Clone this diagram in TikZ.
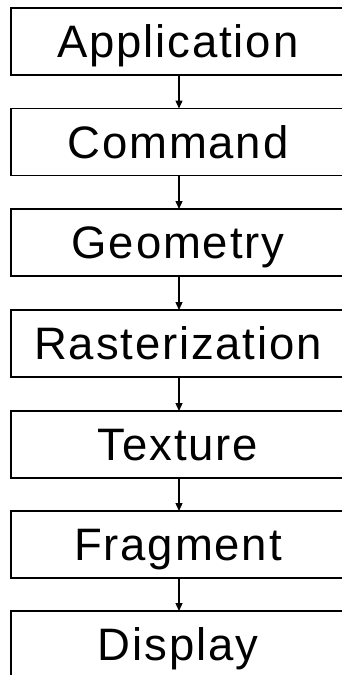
\documentclass[tikz,border=0pt]{standalone}
\usepackage{fontspec}
\setmainfont{Liberation Sans}[LetterSpace=4]
\usetikzlibrary{arrows.meta,calc}
\begin{document}
\begin{tikzpicture}[x=1pt,y=-1pt,
  stage/.style={minimum width=334pt, minimum height=67pt, outer sep=0pt,
    inner sep=0pt, text height=32pt, text depth=0pt,
    font=\fontsize{45.5}{50}\selectfont},
  box/.style={draw=black, line width=1.8pt, line join=miter},
  arr/.style={line width=1.3pt, -{Triangle[length=8pt,width=7pt]}}]
\useasboundingbox (0,0) rectangle (341,675);
\fill[white] (0,0) rectangle (341,675);
\node[stage] (a) at (178,41.5) {Application};
\node[stage] (b) at (178,142) {Command};
\node[stage] (c) at (178,242.5) {Geometry};
\node[stage] (d) at (178,343.5) {Rasterization};
\node[stage] (e) at (178,444.5) {Texture};
\node[stage] (f) at (178,544.5) {Fragment};
\node[stage] (g) at (178,644.5) {Display};
\foreach \n in {a,b,c,d,e,f,g}
  \draw[box] ($(\n.north east)+(40,0)$) -- (\n.north west) -- (\n.south west) -- ($(\n.south east)+(40,0)$);
\draw[arr] ($(a.south)+(1,0)$) -- ($(b.north)+(1,0)$);
\draw[arr] ($(b.south)+(1,0)$) -- ($(c.north)+(1,0)$);
\draw[arr] ($(c.south)+(1,0)$) -- ($(d.north)+(1,0)$);
\draw[arr] ($(d.south)+(1,0)$) -- ($(e.north)+(1,0)$);
\draw[arr] ($(e.south)+(1,0)$) -- ($(f.north)+(1,0)$);
\draw[arr] ($(f.south)+(1,0)$) -- ($(g.north)+(1,0)$);
\end{tikzpicture}
\end{document}
